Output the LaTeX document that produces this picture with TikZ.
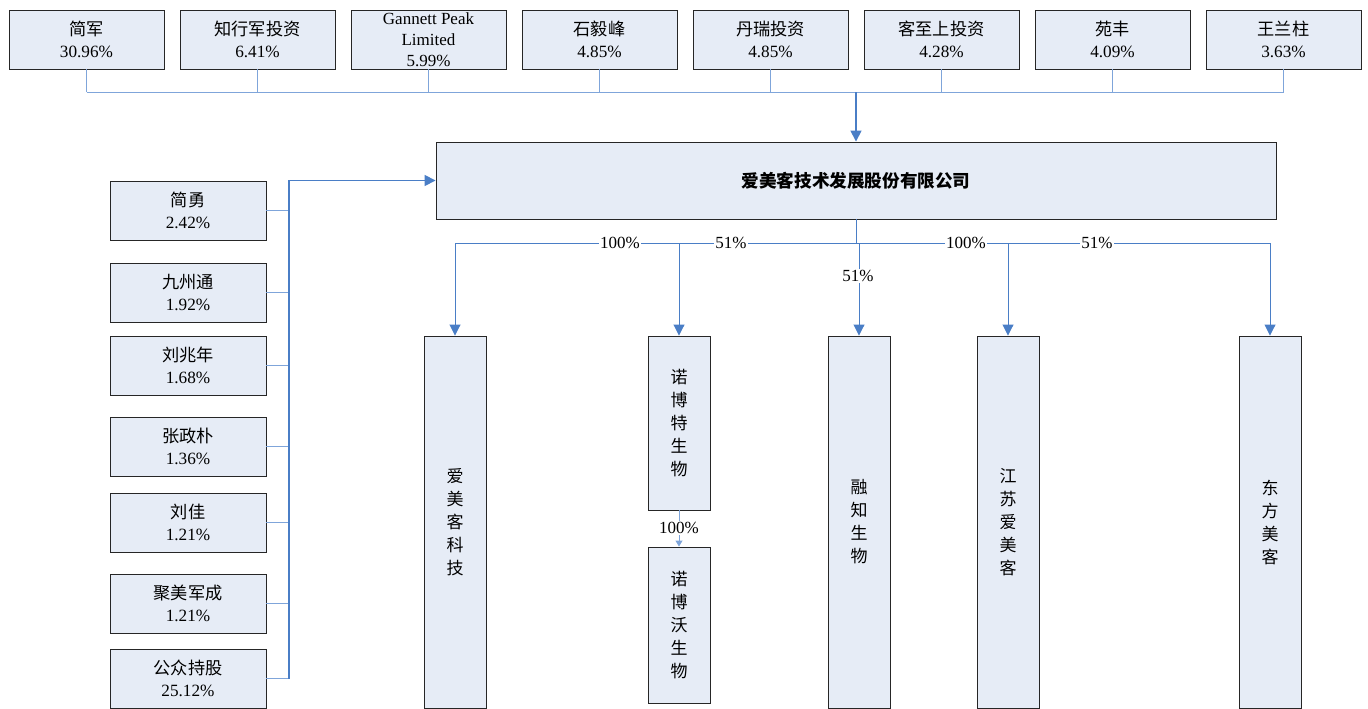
\documentclass[tikz,border=0pt]{standalone}
\usepackage{fontspec}
\setmainfont{Liberation Serif}
\newfontfamily\cjk{Noto Sans CJK SC}
\usetikzlibrary{arrows.meta}
\definecolor{boxfill}{HTML}{E6ECF6}
\definecolor{lineblue}{HTML}{4A7EC6}
\definecolor{lightblue}{HTML}{7FA5DA}
\newcommand{\cj}[1]{{\cjk\fontsize{17.2}{21}\selectfont #1}}
\tikzset{
  box/.style={draw=black!85, line width=0.9pt, fill=boxfill, align=center, inner sep=0pt,
    font=\fontsize{17.2}{22}\selectfont},
  topbox/.style={box, minimum width=155pt, minimum height=59pt},
  leftbox/.style={box, minimum width=156pt, minimum height=59pt},
  vbox/.style={box, minimum width=62pt, font=\cjk\fontsize{17}{23}\selectfont},
  thinline/.style={draw=lightblue, line width=0.9pt},
  bline/.style={draw=lineblue, line width=0.9pt},
  thickline/.style={draw=lineblue, line width=1.6pt},
  arr/.style={-{Triangle[width=11pt,length=11pt]}},
  smallarr/.style={-{Triangle[width=7pt,length=6pt]}},
  pct/.style={fill=white, inner sep=1pt, font=\fontsize{17}{18}\selectfont},
}
\begin{document}
\begin{tikzpicture}[x=1pt, y=-1pt]
\useasboundingbox (0,0) rectangle (1368,709);
% top shareholders
\node[topbox] (t1) at (86.5,39.5) {\cj{简军}\\30.96\%};
\node[topbox] (t2) at (257.5,39.5) {\cj{知行军投资}\\6.41\%};
\node[topbox, font=\fontsize{17}{21}\selectfont] (t3) at (428.5,39.5) {Gannett Peak\\Limited\\5.99\%};
\node[topbox] (t4) at (599.5,39.5) {\cj{石毅峰}\\4.85\%};
\node[topbox] (t5) at (770.5,39.5) {\cj{丹瑞投资}\\4.85\%};
\node[topbox] (t6) at (941.5,39.5) {\cj{客至上投资}\\4.28\%};
\node[topbox] (t7) at (1112.5,39.5) {\cj{苑丰}\\4.09\%};
\node[topbox] (t8) at (1283.5,39.5) {\cj{王兰柱}\\3.63\%};
% main company
\node[box, minimum width=840pt, minimum height=77pt, font=\cjk\bfseries\fontsize{17.6}{20}\selectfont] (main) at (856,180.5) {爱美客技术发展股份有限公司};
% left shareholders
\node[leftbox] (l1) at (188,210.5) {\cj{简勇}\\2.42\%};
\node[leftbox] (l2) at (188,292.5) {\cj{九州通}\\1.92\%};
\node[leftbox] (l3) at (188,365.5) {\cj{刘兆年}\\1.68\%};
\node[leftbox] (l4) at (188,446.5) {\cj{张政朴}\\1.36\%};
\node[leftbox] (l5) at (188,522.5) {\cj{刘佳}\\1.21\%};
\node[leftbox] (l6) at (188,603.5) {\cj{聚美军成}\\1.21\%};
\node[leftbox] (l7) at (188,678.5) {\cj{公众持股}\\25.12\%};
% subsidiaries
\node[vbox, minimum height=372pt] (b1) at (455,522) {爱\\美\\客\\科\\技};
\node[vbox, minimum height=174pt] (b2) at (679,423) {诺\\博\\特\\生\\物};
\node[vbox, minimum height=156pt] (b3) at (679,625) {诺\\博\\沃\\生\\物};
\node[vbox, minimum height=372pt] (b4) at (859,522) {融\\知\\生\\物};
\node[vbox, minimum height=372pt] (b5) at (1008,522) {江\\苏\\爱\\美\\客};
\node[vbox, minimum height=372pt] (b6) at (1270,522) {东\\方\\美\\客};
% top bus
\coordinate (tbus) at (856,92);
\foreach \i in {1,...,8} {\draw[thinline] (t\i.south) -- (t\i.south |- tbus);}
\draw[thinline] (t1.south |- tbus) -- (t8.south |- tbus);
\draw[thickline, arr] (tbus) -- (main.north);
% left bus
\coordinate (ltop) at (289,180.5);
\coordinate (lbot) at (289,678.5);
\foreach \i in {1,...,7} {\draw[thinline] (l\i.east) -- (l\i.east -| ltop);}
\draw[thickline, arr] (lbot) -- (ltop) -- (main.west);
% bottom bus
\coordinate (bbus) at (856,243);
\draw[bline] (main.south) -- (bbus);
\draw[bline] (b1.north |- bbus) -- (b6.north |- bbus);
\draw[bline, arr] (b1.north |- bbus) -- (b1.north);
\draw[bline, arr] (b2.north |- bbus) -- (b2.north);
\draw[bline, arr] (b4.north |- bbus) -- (b4.north);
\draw[bline, arr] (b5.north |- bbus) -- (b5.north);
\draw[bline, arr] (b6.north |- bbus) -- (b6.north);
\node[pct] (p1) at (620,243) {100\%};
\node[pct] (p2) at (731,243) {51\%};
\node[pct] (p3) at (966,243) {100\%};
\node[pct] (p4) at (1097,243) {51\%};
\node[pct] (p5) at (858,276) {51\%};
% sub-subsidiary
\draw[thinline, smallarr] (b2.south) -- (b3.north);
\node[pct] (p6) at (679,528) {100\%};
\end{tikzpicture}
\end{document}
